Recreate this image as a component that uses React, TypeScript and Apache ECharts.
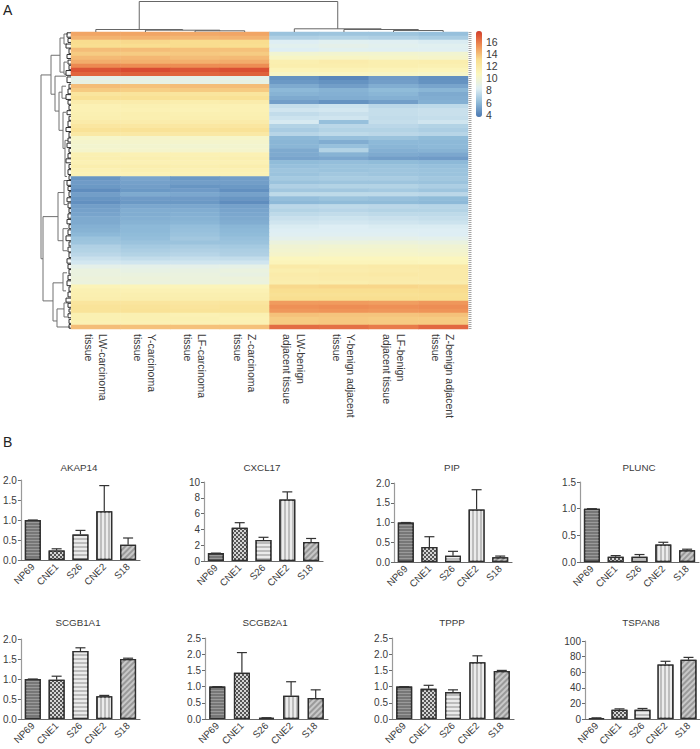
import React, { useEffect, useRef } from "react";
import * as echarts from "echarts";

const FONT = "'Liberation Sans', Arial, sans-serif";
const TEXT = "#3a3a3a";

// ---------- Heat map ----------
const heatColumns = [
  "LW-carcinoma\ntissue", "Y-carcinoma\ntissue", "LF-carcinoma\ntissue", "Z-carcinoma\ntissue",
  "LW-benign\nadjacent tissue", "Y-benign adjacent\ntissue", "LF-benign\nadjacent tissue", "Z-benign adjacent\ntissue",
];
const heatRows: number[][] = [
  [14.4, 14.4, 14.3, 14.4, 6.3, 6.4, 6.4, 6.2],
  [14.0, 14.0, 13.9, 14.0, 6.9, 7.0, 6.9, 6.7],
  [12.8, 12.9, 12.8, 12.8, 8.2, 8.4, 8.3, 8.1],
  [12.7, 12.7, 12.8, 12.7, 8.5, 8.7, 8.5, 8.4],
  [13.7, 13.7, 13.6, 13.6, 8.2, 8.4, 8.3, 8.3],
  [13.3, 13.3, 13.4, 13.3, 9.7, 9.8, 9.8, 9.7],
  [13.8, 13.9, 13.7, 13.8, 10.2, 10.2, 10.1, 10.0],
  [14.2, 14.1, 14.1, 14.2, 11.2, 11.4, 11.2, 11.3],
  [15.2, 15.1, 15.1, 15.1, 11.3, 11.3, 11.2, 11.1],
  [16.7, 16.9, 16.6, 16.8, 10.8, 10.9, 10.8, 10.7],
  [16.2, 16.3, 16.2, 16.3, 10.2, 10.3, 10.2, 10.1],
  [8.6, 8.7, 8.6, 8.6, 4.6, 4.2, 4.9, 4.5],
  [8.9, 8.9, 8.8, 8.9, 4.8, 4.6, 5.0, 4.6],
  [13.7, 13.6, 13.7, 13.7, 5.4, 5.0, 5.5, 5.2],
  [13.3, 13.2, 13.3, 13.3, 5.9, 5.7, 6.0, 5.8],
  [12.1, 12.2, 12.1, 12.1, 5.7, 5.6, 5.8, 5.4],
  [12.5, 12.5, 12.4, 12.5, 5.4, 5.5, 5.6, 5.5],
  [11.4, 11.4, 11.3, 11.4, 5.0, 4.6, 5.0, 5.6],
  [11.0, 11.1, 11.0, 11.0, 7.5, 7.7, 7.2, 7.3],
  [11.0, 11.0, 10.9, 11.0, 7.8, 7.9, 7.5, 7.6],
  [11.1, 11.2, 11.1, 11.1, 7.4, 7.6, 7.5, 7.6],
  [11.2, 11.2, 11.2, 11.2, 7.7, 7.8, 7.4, 7.5],
  [11.5, 11.4, 11.4, 11.5, 8.0, 6.2, 7.5, 7.8],
  [12.0, 11.9, 11.9, 12.0, 7.0, 7.2, 7.2, 7.0],
  [12.4, 12.4, 12.3, 12.4, 6.7, 7.0, 7.0, 6.8],
  [11.8, 11.8, 11.8, 11.8, 7.1, 7.3, 7.2, 7.1],
  [10.1, 10.0, 10.1, 10.1, 5.9, 6.2, 6.3, 6.0],
  [9.9, 9.9, 9.9, 9.9, 5.8, 5.5, 5.9, 5.9],
  [9.8, 9.8, 9.7, 9.8, 5.8, 6.2, 5.8, 5.9],
  [9.9, 9.9, 9.9, 9.9, 5.4, 7.0, 5.6, 5.7],
  [11.1, 11.0, 11.0, 11.0, 5.4, 5.7, 5.4, 5.3],
  [11.2, 11.2, 11.1, 11.2, 5.2, 5.3, 5.0, 4.9],
  [11.0, 11.0, 11.0, 11.0, 6.0, 6.1, 6.0, 5.9],
  [11.3, 11.3, 11.2, 11.3, 6.2, 6.3, 6.3, 6.2],
  [11.0, 11.1, 11.0, 11.0, 6.4, 6.3, 6.4, 6.3],
  [10.9, 10.9, 10.9, 10.9, 6.3, 6.5, 6.4, 6.3],
  [4.7, 5.2, 4.8, 5.0, 6.6, 6.7, 6.7, 6.5],
  [4.9, 5.1, 5.0, 5.0, 6.3, 6.4, 6.4, 6.3],
  [4.8, 5.0, 4.7, 4.8, 6.9, 7.0, 7.0, 6.8],
  [4.4, 4.8, 4.9, 4.5, 6.5, 6.5, 6.6, 6.4],
  [5.0, 5.4, 5.3, 5.1, 7.3, 7.3, 7.3, 7.2],
  [4.7, 4.9, 4.9, 4.7, 6.1, 6.3, 6.2, 6.0],
  [4.5, 4.8, 4.8, 4.4, 5.9, 6.0, 6.0, 5.9],
  [5.0, 5.3, 5.3, 5.1, 7.2, 7.3, 7.2, 7.1],
  [5.1, 5.5, 5.5, 5.2, 7.0, 7.1, 7.0, 7.0],
  [5.2, 5.5, 5.6, 5.3, 7.3, 7.4, 7.3, 7.3],
  [5.4, 5.6, 5.7, 5.4, 7.6, 7.7, 7.6, 7.5],
  [5.4, 5.7, 5.8, 5.5, 7.8, 7.9, 7.8, 7.7],
  [5.6, 5.9, 6.1, 5.8, 8.1, 8.2, 8.1, 8.1],
  [5.7, 5.9, 6.2, 5.9, 8.2, 8.2, 8.2, 8.2],
  [5.9, 6.0, 6.3, 6.0, 8.3, 8.3, 8.3, 8.2],
  [6.3, 6.1, 6.5, 6.2, 8.6, 8.7, 8.7, 8.6],
  [6.4, 6.3, 6.3, 6.3, 9.2, 9.2, 9.3, 9.1],
  [6.9, 6.6, 6.7, 6.6, 9.6, 9.7, 9.7, 9.6],
  [7.0, 6.8, 6.9, 6.8, 9.8, 9.9, 9.9, 9.8],
  [7.2, 7.0, 7.1, 6.9, 10.0, 10.1, 10.1, 10.0],
  [7.6, 7.4, 7.5, 7.4, 10.5, 10.5, 10.5, 10.5],
  [7.9, 7.8, 7.8, 7.8, 10.7, 10.7, 10.7, 10.6],
  [8.7, 8.7, 8.7, 8.8, 11.6, 11.5, 11.6, 11.7],
  [9.1, 8.9, 9.0, 9.1, 11.3, 11.4, 11.5, 11.6],
  [9.1, 9.1, 9.1, 9.0, 11.5, 11.6, 11.7, 11.6],
  [9.3, 9.3, 9.2, 9.3, 11.4, 11.5, 11.5, 11.6],
  [9.2, 9.2, 9.2, 9.2, 11.3, 11.3, 11.4, 11.4],
  [10.8, 10.7, 10.7, 10.7, 12.9, 13.0, 13.0, 12.9],
  [11.1, 11.0, 11.0, 11.0, 12.7, 12.7, 12.7, 12.8],
  [11.2, 11.2, 11.2, 11.2, 12.5, 12.5, 12.5, 12.6],
  [11.3, 11.3, 11.3, 11.3, 12.7, 12.7, 12.7, 12.7],
  [12.1, 12.1, 12.0, 12.1, 14.7, 14.7, 14.6, 14.8],
  [12.3, 12.3, 12.2, 12.3, 15.0, 15.1, 15.0, 15.1],
  [12.3, 12.4, 12.3, 12.3, 14.8, 14.9, 14.8, 14.9],
  [11.1, 11.1, 11.0, 11.1, 13.6, 13.5, 13.5, 13.6],
  [11.1, 11.1, 11.1, 11.0, 13.3, 13.4, 13.3, 13.3],
  [11.0, 11.0, 11.0, 11.0, 13.3, 13.4, 13.3, 13.3],
  [13.7, 13.6, 13.6, 13.6, 16.0, 15.9, 15.6, 16.1],
];
const heatStops = ["#4A78B2", "#8FBBD9", "#DFEFF4", "#FBF6BE", "#F9DE90", "#EE8F55", "#D43D2A"];
const heatTicks = [4, 6, 8, 10, 12, 14, 16];

// ---------- Dendrograms: [pos1, pos2, height, childHeight1, childHeight2] ----------
const topTree: number[][] = [
  [2.5, 3.5, 1.2, 0, 0], [1.5, 3.0, 1.8, 0, 1.2], [0.5, 2.25, 2.5, 0, 1.8],
  [6.5, 7.5, 1.5, 0, 0], [5.5, 7.0, 2.5, 0, 1.5], [4.5, 6.25, 3.2, 0, 2.5],
  [1.375, 5.375, 30.5, 2.5, 3.2],
];
const leftTree: number[][] = [
  [30, 10.7, 56.5, 20, 28],
  [20, 5.8, 15.5, 11, 16],
  [28, 46, 67, 13, 18],
  [11, 1.5, 10, 7, 7],
  [7, 0.5, 3, 3, 4],
  [7, 7.5, 10.5, 4, 5],
  [16, 11, 19.7, 5, 12],
  [12, 15, 24.5, 9, 8],
  [9, 13.5, 16.5, 5, 5],
  [8, 20, 29, 5, 6],
  [6, 27, 36, 3, 4],
  [13, 40, 52, 7, 8],
  [7, 37, 43, 3, 4],
  [8, 49, 54.5, 3, 4],
  [18, 62.5, 72, 8, 14],
  [8, 60, 64.5, 4, 5],
  [14, 69, 73.5, 7, 1],
  [7, 67.5, 71, 3, 4],
];
const leafTree: number[][] = [
  [4, 0.2, 1.3], [3, 1.6, 2.6], [5, 3.0, 4.0], [2, 4.2, 5.4], [4, 5.6, 6.6], [3, 7.0, 8.0], [2, 8.3, 9.4], [5, 9.6, 10.8],
  [4, 11.2, 12.6], [2, 13.0, 14.0], [3, 14.2, 15.4], [5, 15.6, 16.8], [3, 17.0, 18.0], [2, 18.3, 19.4], [4, 19.6, 20.6],
  [2, 21.0, 22.0], [3, 22.2, 23.6], [5, 23.8, 24.8], [2, 25.0, 26.2], [3, 26.4, 27.4], [4, 27.7, 28.8], [2, 29.0, 30.0],
  [3, 30.3, 31.4], [5, 31.6, 32.6], [2, 33.0, 34.0], [3, 34.3, 35.5], [2, 35.8, 36.8], [4, 37.0, 38.2], [3, 38.5, 39.5],
  [2, 39.8, 41.0], [4, 41.3, 42.3], [3, 42.6, 43.8], [2, 44.0, 45.0], [3, 45.3, 46.4], [4, 46.7, 47.8], [2, 48.0, 49.0],
  [3, 49.3, 50.5], [5, 50.8, 52.0], [2, 52.3, 53.3], [3, 53.6, 54.8], [2, 55.0, 56.2], [4, 56.5, 57.6], [3, 57.9, 59.0],
  [2, 59.2, 60.3], [3, 60.6, 61.7], [4, 62.0, 63.2], [2, 63.5, 64.6], [3, 64.8, 66.0], [5, 66.3, 67.3], [3, 67.6, 68.6],
  [2, 69.0, 69.8], [3, 70.2, 71.2], [2, 71.6, 72.6], [2, 72.9, 73.8],
];

// ---------- Bar panels ----------
const cellLines = ["NP69", "CNE1", "S26", "CNE2", "S18"];
const akap14 = [1.0, 0.24, 0.64, 1.22, 0.38];
const akap14Top = [1.0, 0.28, 0.74, 1.86, 0.55];
const cxcl17 = [1.0, 4.2, 2.65, 7.8, 2.4];
const cxcl17Top = [1.0, 4.85, 3.0, 8.75, 2.85];
const pip = [1.0, 0.38, 0.16, 1.33, 0.12];
const pipTop = [1.0, 0.64, 0.27, 1.83, 0.15];
const plunc = [1.0, 0.1, 0.1, 0.33, 0.22];
const pluncTop = [1.0, 0.12, 0.14, 0.37, 0.24];
const scgb1a1 = [1.0, 0.98, 1.7, 0.57, 1.5];
const scgb1a1Top = [1.0, 1.07, 1.78, 0.59, 1.52];
const scgb2a1 = [1.0, 1.43, 0.03, 0.72, 0.65];
const scgb2a1Top = [1.0, 2.05, 0.04, 1.15, 0.9];
const tppp = [1.0, 0.93, 0.83, 1.75, 1.48];
const tpppTop = [1.0, 1.04, 0.9, 1.95, 1.5];
const tspan8 = [1.0, 12, 12, 70, 76];
const tspan8Top = [1.5, 13, 13.5, 74, 79];

const panels = [
  { name: "AKAP14", v: akap14, t: akap14Top, max: 2, step: 0.5, box: [20, 480, 120, 80], tx: 79, ty: 462 },
  { name: "CXCL17", v: cxcl17, t: cxcl17Top, max: 10, step: 2, box: [204, 482, 119, 79], tx: 262, ty: 462 },
  { name: "PIP", v: pip, t: pipTop, max: 2, step: 0.5, box: [394, 483, 118, 79], tx: 452, ty: 462 },
  { name: "PLUNC", v: plunc, t: pluncTop, max: 1.5, step: 0.5, box: [580, 482, 119, 80], tx: 639, ty: 462 },
  { name: "SCGB1A1", v: scgb1a1, t: scgb1a1Top, max: 2, step: 0.5, box: [20, 639, 120, 80], tx: 78, ty: 617 },
  { name: "SCGB2A1", v: scgb2a1, t: scgb2a1Top, max: 2.5, step: 0.5, box: [205, 638, 123, 81], tx: 265, ty: 617 },
  { name: "TPPP", v: tppp, t: tpppTop, max: 2.5, step: 0.5, box: [392, 638, 122, 81], tx: 452, ty: 617 },
  { name: "TSPAN8", v: tspan8, t: tspan8Top, max: 100, step: 20, box: [585, 641, 115, 78], tx: 641, ty: 617 },
];

const barLooks = [
  { color: "#777777", decal: { symbol: "rect", symbolSize: 1, dashArrayX: [1, 0], dashArrayY: [1, 2], rotation: 0, color: "rgba(170,170,170,0.7)" } },
  { color: "#555555", decal: { symbol: "rect", symbolSize: 1, dashArrayX: [[2, 2], [0, 2, 2, 0]], dashArrayY: [2, 0], rotation: 0, color: "rgba(235,235,235,0.85)" } },
  { color: "#bcbcbc", decal: { symbol: "rect", symbolSize: 1, dashArrayX: [1, 0], dashArrayY: [2, 2], rotation: 0, color: "rgba(255,255,255,0.7)" } },
  { color: "#bebebe", decal: { symbol: "rect", symbolSize: 1, dashArrayX: [1, 0], dashArrayY: [2, 2], rotation: Math.PI / 2, color: "rgba(255,255,255,0.7)" } },
  { color: "#9a9a9a", decal: { symbol: "rect", symbolSize: 1, dashArrayX: [1, 0], dashArrayY: [2, 2], rotation: -Math.PI / 4, color: "rgba(220,220,220,0.7)" } },
];

function buildOption() {
  const grid: any[] = [];
  const xAxis: any[] = [];
  const yAxis: any[] = [];
  const series: any[] = [];
  const hidden = { show: false };

  // 0: heat map
  grid.push({ left: 71, top: 32, width: 397, height: 297, show: false });
  xAxis.push({
    type: "category", gridIndex: 0, data: heatColumns, position: "bottom",
    axisLine: hidden, axisTick: hidden,
    axisLabel: { rotate: -90, interval: 0, margin: 5, fontFamily: FONT, fontSize: 10.5, color: TEXT, lineHeight: 14 },
  });
  yAxis.push({ type: "category", gridIndex: 0, inverse: true, data: heatRows.map((_, i) => String(i)), show: false });
  series.push({
    type: "heatmap", xAxisIndex: 0, yAxisIndex: 0, silent: true,
    data: heatRows.flatMap((row, r) => row.map((v, c) => [c, r, v])),
  });

  // 1: top dendrogram
  grid.push({ left: 71, top: 0, width: 397, height: 32, show: false });
  xAxis.push({ type: "value", gridIndex: 1, min: 0, max: 8, show: false });
  yAxis.push({ type: "value", gridIndex: 1, min: 0, max: 32, show: false });
  series.push({
    type: "custom", xAxisIndex: 1, yAxisIndex: 1, silent: true, data: topTree, clip: false,
    renderItem: (_: any, api: any) => {
      const [a, b, h, h1, h2] = [0, 1, 2, 3, 4].map((i) => api.value(i));
      return {
        type: "polyline",
        shape: { points: [api.coord([a, h1]), api.coord([a, h]), api.coord([b, h]), api.coord([b, h2])] },
        style: { fill: "none", stroke: "#666", lineWidth: 1 },
      };
    },
  });

  // 2: left dendrogram
  grid.push({ left: 38, top: 32, width: 33, height: 297, show: false });
  xAxis.push({ type: "value", gridIndex: 2, min: 0, max: 33, inverse: true, show: false });
  yAxis.push({ type: "value", gridIndex: 2, min: 0, max: 74, inverse: true, show: false });
  const bracket = (color: string) => (_: any, api: any) => {
    const h = api.value(0), r1 = api.value(1), r2 = api.value(2), h1 = api.value(3), h2 = api.value(4);
    return {
      type: "polyline",
      shape: { points: [api.coord([h1, r1]), api.coord([h, r1]), api.coord([h, r2]), api.coord([h2, r2])] },
      style: { fill: "none", stroke: color, lineWidth: 1 },
    };
  };
  series.push({ type: "custom", xAxisIndex: 2, yAxisIndex: 2, silent: true, clip: false, data: leftTree, renderItem: bracket("#707070") });
  series.push({
    type: "custom", xAxisIndex: 2, yAxisIndex: 2, silent: true, clip: false,
    data: leafTree.map((d) => [d[0], d[1], d[2], 0, 0]), renderItem: bracket("#2e2e2e"),
  });

  // 3: colour-bar scale
  grid.push({ left: 476, top: 31, width: 6, height: 86, show: false });
  xAxis.push({ type: "value", gridIndex: 3, show: false, min: 0, max: 1 });
  yAxis.push({
    type: "value", gridIndex: 3, position: "right", min: 3.6, max: 17.85,
    splitLine: hidden, axisLine: hidden, axisTick: hidden,
    axisLabel: { customValues: heatTicks, margin: 4, fontFamily: FONT, fontSize: 10.5, color: TEXT },
  });
  series.push({ type: "line", xAxisIndex: 3, yAxisIndex: 3, data: [], silent: true });

  // 4: row-label strip
  grid.push({ left: 468, top: 32, width: 4, height: 297, show: false });
  xAxis.push({ type: "value", gridIndex: 4, show: false, min: 0, max: 1 });
  yAxis.push({ type: "value", gridIndex: 4, show: false, min: 0, max: 74, inverse: true });
  series.push({
    type: "custom", xAxisIndex: 4, yAxisIndex: 4, silent: true, clip: false, data: [[0.5, 0, 74]],
    renderItem: (_: any, api: any) => {
      const p1 = api.coord([api.value(0), api.value(1)]);
      const p2 = api.coord([api.value(0), api.value(2)]);
      return {
        type: "line", shape: { x1: p1[0], y1: p1[1], x2: p2[0], y2: p2[1] },
        style: { stroke: "#a5a5a5", lineWidth: 3, lineDash: [1, 1] },
      };
    },
  });

  // bar panels
  panels.forEach((p) => {
    const g = grid.length;
    grid.push({ left: p.box[0], top: p.box[1], width: p.box[2], height: p.box[3], show: false });
    xAxis.push({
      type: "category", gridIndex: g, data: cellLines,
      axisLine: { lineStyle: { color: "#6a6a6a", width: 1.2 } },
      axisTick: { alignWithLabel: true, length: 3, lineStyle: { color: "#6a6a6a" } },
      axisLabel: { rotate: 45, interval: 0, margin: 5, fontFamily: FONT, fontSize: 9.8, color: TEXT },
    });
    yAxis.push({
      type: "value", gridIndex: g, min: 0, max: p.max, interval: p.step,
      splitLine: hidden,
      axisLine: { show: true, lineStyle: { color: "#9a9a9a", width: 1.2 } },
      axisTick: { show: true, length: 3, lineStyle: { color: "#6a6a6a" } },
      axisLabel: {
        margin: 4, fontFamily: FONT, fontSize: 10, color: TEXT,
        formatter: (v: number) => (p.step < 1 ? v.toFixed(1) : String(v)),
      },
    });
    series.push({
      type: "bar", xAxisIndex: g, yAxisIndex: g, barWidth: 16, silent: true,
      data: p.v.map((v, i) => ({
        value: v,
        itemStyle: { color: barLooks[i].color, decal: barLooks[i].decal, borderColor: "#2f2f2f", borderWidth: 1.3 },
      })),
    });
    series.push({
      type: "custom", xAxisIndex: g, yAxisIndex: g, silent: true, clip: false, z: 5,
      data: p.v.map((v, i) => [i, v, p.t[i]]),
      renderItem: (_: any, api: any) => {
        const base = api.coord([api.value(0), api.value(1)]);
        const top = api.coord([api.value(0), api.value(2)]);
        const line = { stroke: "#333", lineWidth: 1.2 };
        return {
          type: "group",
          children: [
            { type: "line", shape: { x1: base[0], y1: base[1], x2: top[0], y2: top[1] }, style: line },
            { type: "line", shape: { x1: top[0] - 5, y1: top[1], x2: top[0] + 5, y2: top[1] }, style: line },
          ],
        };
      },
    });
  });

  return {
    animation: false,
    backgroundColor: "#ffffff",
    title: [
      { text: "A", left: 3, top: 3, padding: 0, textStyle: { fontFamily: FONT, fontSize: 14, fontWeight: "normal", color: "#222" } },
      { text: "B", left: 3, top: 435, padding: 0, textStyle: { fontFamily: FONT, fontSize: 14, fontWeight: "normal", color: "#222" } },
      ...panels.map((p) => ({
        text: p.name, left: p.tx, top: p.ty, padding: 0, textAlign: "center",
        textStyle: { fontFamily: FONT, fontSize: 9.8, fontWeight: "normal", color: TEXT },
      })),
    ],
    visualMap: {
      type: "continuous", seriesIndex: 0, dimension: 2, min: 3.7, max: 17.3, show: true,
      left: 476, top: 31, itemWidth: 6, itemHeight: 86, padding: 0, calculable: false, text: ["", ""],
      inRange: { color: heatStops }, silent: true, textGap: 0,
    },
    grid, xAxis, yAxis, series,
  };
}

export default function App() {
  const ref = useRef<HTMLDivElement>(null);
  useEffect(() => {
    const chart = echarts.init(ref.current!, undefined, { renderer: "svg" });
    chart.setOption(buildOption() as any);
    return () => chart.dispose();
  }, []);
  return <div ref={ref} style={{ position: "absolute", left: 0, top: 0, width: 700, height: 749 }} />;
}
